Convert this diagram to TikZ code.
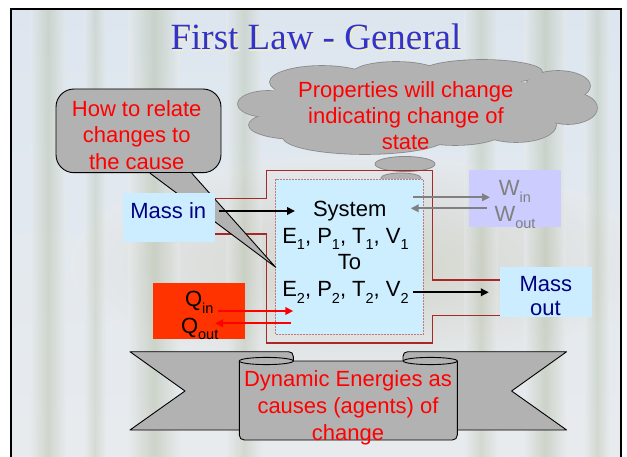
\documentclass[tikz,border=0pt]{standalone}
\usepackage{fontspec}
\setmainfont{Liberation Sans}
\newfontfamily\titlefont{Liberation Serif}
\usetikzlibrary{arrows.meta}

\definecolor{skytop}{HTML}{DDE6EF}
\definecolor{skybot}{HTML}{E8EBEE}
\definecolor{stalk}{HTML}{B4BEA6}
\definecolor{foliage}{HTML}{C4C1AA}
\definecolor{titleblue}{HTML}{3333CC}
\definecolor{titleshade}{HTML}{F2EEC0}
\definecolor{shapegray}{HTML}{B2B2B2}
\definecolor{cloudedge}{HTML}{8A8A8A}
\definecolor{pptred}{HTML}{FF0000}
\definecolor{navy}{HTML}{000080}
\definecolor{massfill}{HTML}{CCECFF}
\definecolor{sysfill}{HTML}{CCEEFF}
\definecolor{sysedge}{HTML}{C07A7A}
\definecolor{ductred}{HTML}{A82828}
\definecolor{workfill}{HTML}{CCCCFF}
\definecolor{worktext}{HTML}{808080}
\definecolor{heatfill}{HTML}{FF3300}

% lowered, smaller index as used for E1, W_in, Q_out ...
\newcommand\lowsub[1]{\raisebox{-6.5pt}{\fontsize{14.5}{14.5}\selectfont #1}}

\begin{document}
\begin{tikzpicture}[x=1pt,y=-1pt,
  txt/.style={font=\fontsize{22}{26}\selectfont, inner sep=0pt, anchor=base},
  redtxt/.style={txt, text=pptred},
  flatbox/.style={inner sep=0pt, draw=none},
  arr/.style={line width=2pt, -{Triangle[length=8pt,width=7.5pt]}},
  shapeline/.style={fill=shapegray, draw=black, line width=0.9pt, line join=round},
  cloudout/.style={draw=cloudedge, line width=1.6pt},
]
\useasboundingbox (0,0) rectangle (627,457);

% ---------- slide backdrop: pale sky with soft bamboo stalks ----------
\begin{scope}
  \clip (11,9) rectangle (621,457);
  \shade[top color=skytop, bottom color=skybot] (11,9) rectangle (621,457);
  \shade[inner color=foliage, outer color=skybot, opacity=0.55]
    (360,265) ellipse [x radius=290pt, y radius=110pt];
  \foreach \a/\b/\o in {30/66/0.45, 84/106/0.35, 128/180/0.5, 226/262/0.4,
                        464/498/0.4, 524/566/0.5, 584/610/0.4}
    \shade[left color=skybot, right color=skybot, middle color=stalk, opacity=\o]
      (\a,9) rectangle (\b,457);
\end{scope}
\draw[line width=2pt] (11,470) -- (11,9) -- (621,9) -- (621,470);

% ---------- title ----------
\node[font=\titlefont\fontsize{37}{40}\selectfont, text=titleshade, inner sep=0pt, anchor=base]
  (titleshadow) at (317.5,51.5) {First Law - General};
\node[font=\titlefont\fontsize{37}{40}\selectfont, text=titleblue, inner sep=0pt, anchor=base]
  (title) at (316,50) {First Law - General};

% ---------- thought cloud ----------
\foreach \cx/\cy/\rx/\ry in {268/104/30pt/13pt, 297/125/48pt/14pt, 322/82/52pt/16pt,
    396/74/44pt/12pt, 482/72/60pt/12pt, 558/86/32pt/15pt, 568/108/29pt/16pt,
    516/125/40pt/17pt, 365/137/82pt/17pt, 455/130/50pt/15pt}
  \draw[cloudout] (\cx,\cy) ellipse [x radius=\rx, y radius=\ry];
\foreach \cx/\cy/\rx/\ry in {268/104/30pt/13pt, 297/125/48pt/14pt, 322/82/52pt/16pt,
    396/74/44pt/12pt, 482/72/60pt/12pt, 558/86/32pt/15pt, 568/108/29pt/16pt,
    516/125/40pt/17pt, 365/137/82pt/17pt, 455/130/50pt/15pt, 410/105/150pt/35pt}
  \fill[shapegray] (\cx,\cy) ellipse [x radius=\rx, y radius=\ry];
\draw[cloudedge, line width=0.8pt, fill=shapegray] (405,164) ellipse [x radius=30pt, y radius=7.5pt];
\draw[cloudedge, line width=0.8pt, fill=shapegray] (401,178) ellipse [x radius=20pt, y radius=5pt];
\draw[cloudedge, line width=0.8pt, fill=shapegray] (399.5,188.3) ellipse [x radius=10.5pt, y radius=2.8pt];
\node[redtxt] (cloud1) at (405.8,97.3) {Properties will change};
\node[redtxt] (cloud2) at (406,123.3) {indicating change of};
\node[redtxt] (cloud3) at (405.6,150) {state};

% ---------- system boundary with inlet and outlet ducts ----------
\draw[ductred, line width=1.3pt] (215,198.3) -- (266.3,198.3) -- (266.3,170.7)
  -- (432.7,170.7) -- (432.7,280) -- (500,280);
\draw[ductred, line width=1.3pt] (500,315.7) -- (432.7,315.7) -- (432.7,343)
  -- (266.3,343) -- (266.3,234) -- (215,234);

\node[flatbox, fill=sysfill, draw=sysedge, line width=0.8pt, dash pattern=on 2pt off 1pt,
  minimum width=147.6pt, minimum height=155pt] (system) at (349.5,256.8) {};

% ---------- callout ----------
\coordinate (howtip) at (275.7,267.3);
\node[shapeline, rounded corners=18pt, minimum width=165pt, minimum height=83.7pt]
  (howbox) at (138.5,130.85) {};
\fill[shapegray] ([xshift=11.5pt]howbox.south) -- (howtip) -- ([xshift=53.2pt]howbox.south) -- cycle;
\draw[line width=0.9pt, line join=round]
  ([xshift=11.5pt]howbox.south) -- (howtip) -- ([xshift=53.2pt]howbox.south);
\node[redtxt] (how1) at (136.7,116.7) {How to relate};
\node[redtxt] (how2) at (136.7,143) {changes to};
\node[redtxt] (how3) at (136.7,169.3) {the cause};

% ---------- mass, work and heat boxes ----------
\node[flatbox, fill=massfill, minimum width=92.3pt, minimum height=49pt] (massin) at (168.85,217.2) {};
\node[txt, text=navy] (massinlbl) at (168.3,218.3) {Mass in};

\node[flatbox, fill=massfill, minimum width=91.7pt, minimum height=50pt] (massout) at (545.85,292.3) {};
\node[txt, text=navy] (massout1) at (545.8,291.7) {Mass};
\node[txt, text=navy] (massout2) at (545.5,316) {out};

\node[flatbox, fill=workfill, minimum width=92pt, minimum height=56.7pt] (work) at (515,198.35) {};
\node[txt, text=worktext] (win) at (515,196) {W\lowsub{in}};
\node[txt, text=worktext] (wout) at (515,222) {W\lowsub{out}};

\node[flatbox, fill=heatfill, minimum width=91.7pt, minimum height=56pt] (heat) at (199.15,311.3) {};
\node[txt] (qin) at (199.2,306.7) {Q\lowsub{in}};
\node[txt] (qout) at (199.7,333.3) {Q\lowsub{out}};

% ---------- system state ----------
\node[txt] (sysname) at (349.7,216.7) {System};
\node[txt] (state1) at (345.5,243.3) {E\lowsub{1}, P\lowsub{1}, T\lowsub{1}, V\lowsub{1}};
\node[txt] (systo) at (349.5,270) {To};
\node[txt] (state2) at (345.5,296.7) {E\lowsub{2}, P\lowsub{2}, T\lowsub{2}, V\lowsub{2}};

% ---------- flows ----------
\coordinate (massinTip) at (295,211);
\draw[arr, shorten <=4pt] (massin.east |- massinTip) -- (massinTip);
\coordinate (massoutStart) at (413,292.3);
\draw[arr, shorten >=11pt] (massoutStart) -- (massout.west |- massoutStart);

\coordinate (winStart) at (413,197.3);
\coordinate (winTip) at (490,197.3);
\draw[arr, worktext] (winStart) -- (winTip);
\coordinate (woutStart) at (486.7,208.3);
\coordinate (woutTip) at (410.7,208.3);
\draw[arr, worktext] (woutStart) -- (woutTip);

\coordinate (qinStart) at (218.3,311);
\coordinate (qinTip) at (293.3,311);
\draw[arr, pptred] (qinStart) -- (qinTip);
\coordinate (qoutStart) at (290.7,323.3);
\coordinate (qoutTip) at (215,323.3);
\draw[arr, pptred] (qoutStart) -- (qoutTip);

% ---------- ribbon banner ----------
\draw[shapeline] (130,351.7) -- (288.5,351.7) .. controls (291.5,351.7) and (293.3,353.5) .. (293.3,356.5)
  -- (293.3,430) -- (130,430) -- (185,391) -- cycle;
\draw[shapeline] (566.6,351.7) -- (407.8,351.7) .. controls (404.8,351.7) and (403,353.5) .. (403,356.5)
  -- (403,430) -- (566.6,430) -- (511.6,391) -- cycle;
\draw[shapeline] (239.3,361) -- (239.3,435) .. controls (239.3,438) and (241.3,440) .. (244.3,440)
  -- (452.3,440) .. controls (455.3,440) and (457.3,438) .. (457.3,435) -- (457.3,361) -- cycle;
\draw[shapeline] (266.3,361) ellipse [x radius=27pt, y radius=3.6pt];
\draw[shapeline] (430.3,361) ellipse [x radius=27pt, y radius=3.6pt];
\node[redtxt] (cause1) at (348,386.7) {Dynamic Energies as};
\node[redtxt] (cause2) at (348,413.3) {causes (agents) of};
\node[redtxt] (cause3) at (348,440) {change};
\end{tikzpicture}
\end{document}
